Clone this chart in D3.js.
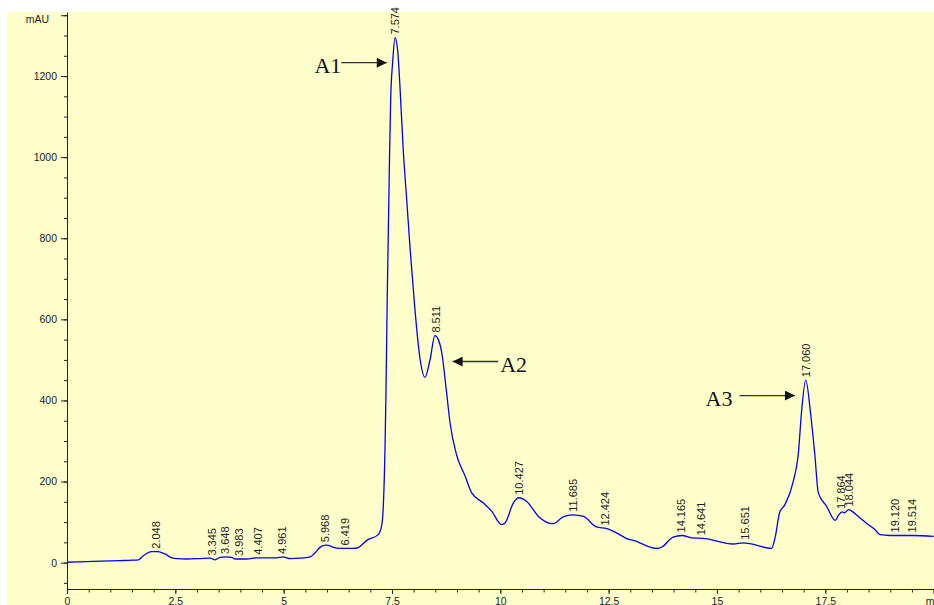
<!DOCTYPE html>
<html>
<head>
<meta charset="utf-8">
<script src="https://d3js.org/d3.v7.min.js"></script>
<style>
  body { margin: 0; background: #fff; }
  svg { display: block; }
  .axis text { font-family: "Liberation Sans", Arial, sans-serif; font-size: 10.5px; fill: #222; }
  .axis path, .axis line { stroke: #222; }
</style>
</head>
<body>
<div id="chart"></div>
<script>
// chromatogram trace (time in min, signal in mAU)
var traceTime = [0.00, 0.22, 0.60, 1.22, 1.50, 1.65, 1.76, 1.95, 2.10, 2.25, 2.42, 2.55, 2.76, 3.07, 3.30,
  3.42, 3.53, 3.68, 3.80, 3.88, 4.15, 4.38, 4.84, 4.99, 5.15, 5.40, 5.61, 5.72, 5.88, 5.99, 6.22, 6.61,
  6.72, 6.92, 7.18, 7.26, 7.30, 7.34, 7.36, 7.39, 7.44, 7.47, 7.52, 7.57, 7.63, 7.68, 7.76, 7.84, 7.92,
  8.03, 8.15, 8.26, 8.38, 8.49, 8.57, 8.65, 8.76, 8.84, 8.99, 9.19, 9.34, 9.61, 9.80, 10.03, 10.11, 10.30,
  10.42, 10.61, 10.88, 11.22, 11.45, 11.68, 11.92, 12.22, 12.46, 12.69, 12.95, 13.07, 13.61, 13.72, 13.99,
  14.19, 14.42, 14.68, 15.38, 15.61, 15.76, 16.26, 16.34, 16.45, 16.57, 16.76, 16.88, 16.95, 17.05, 17.16,
  17.26, 17.34, 17.53, 17.73, 17.81, 17.89, 17.94, 18.04, 18.11, 18.30, 18.53, 18.65, 18.76, 18.99, 19.53, 20.00];
var traceMAU = [1, 2, 3, 5, 6, 7, 17, 27, 27, 22, 12, 10, 9, 10, 11,
  7, 13, 14, 13, 9, 9, 12, 12, 14, 10, 11, 14, 24, 41, 43, 36, 35,
  37, 55, 69, 90, 139, 287, 410, 649, 977, 1142, 1240, 1295, 1265, 1183, 1018, 895, 772,
  624, 501, 457, 501, 560, 550, 517, 420, 345, 266, 213, 172, 147, 127, 94, 98, 147,
  160, 151, 114, 96, 113, 118, 114, 88, 84, 73, 58, 55, 35, 38, 63,
  67, 61, 60, 46, 49, 47, 35, 61, 125, 143, 200, 271, 369, 450, 369,
  265, 172, 139, 104, 118, 125, 123, 131, 127, 110, 91, 81, 69, 67, 67, 65];

// peak retention times and heights
var peakTimes = [2.048, 3.345, 3.648, 3.983, 4.407, 4.961, 5.968, 6.419, 7.574, 8.511, 10.427, 11.685,
  12.424, 14.165, 14.641, 15.651, 17.060, 17.864, 18.044, 19.120, 19.514];
var peakHeights = [27, 10, 14, 9, 12, 14, 43, 35, 1295, 560, 160, 118,
  84, 67, 60, 49, 450, 125, 131, 67, 67];

// arrow annotations
var annLabels = ["A1", "A2", "A3"];
var annTipTime = [7.38, 8.90, 16.80];
var annTipMAU = [1233, 496, 412];
var annTailTime = [6.33, 9.95, 15.52];

// axis ticks
var xTicks = [0, 2.5, 5, 7.5, 10, 12.5, 15, 17.5, 20];
var xTickLabels = ["0", "2.5", "5", "7.5", "10", "12.5", "15", "17.5", "min"];
var yTicks = [0, 200, 400, 600, 800, 1000, 1200, 1350];

var svgWidth = 934;
var svgHeight = 605;

var svg = d3.select("#chart")
  .append("svg")
  .attr("width", svgWidth)
  .attr("height", svgHeight);

// pale yellow plot background
svg.append("rect")
  .attr("x", 7)
  .attr("y", 12)
  .attr("width", svgWidth - 7)
  .attr("height", svgHeight - 12)
  .attr("fill", "#ffffcc");

var x = d3.scaleLinear().domain([0, 20]).range([67, 933.6]);
var y = d3.scaleLinear().domain([-65, 1358]).range([589, 12]);

// y axis, minor then major
svg.append("g")
  .attr("class", "axis")
  .attr("transform", "translate(67,0)")
  .call(d3.axisLeft(y).tickValues(d3.range(-50, 1351, 50)).tickSize(3).tickFormat(""))
  .call(g => g.select(".domain").remove());

svg.append("g")
  .attr("class", "axis")
  .attr("transform", "translate(67,0)")
  .call(d3.axisLeft(y).tickValues(yTicks).tickSize(6).tickSizeOuter(0).tickPadding(4)
    .tickFormat(d => d == 1350 ? "" : d));

svg.append("text")
  .attr("x", 49)
  .attr("y", 23)
  .attr("text-anchor", "end")
  .style("font-family", "Liberation Sans, Arial, sans-serif")
  .style("font-size", "10.5px")
  .attr("fill", "#222")
  .text("mAU");

// x axis
svg.append("g")
  .attr("class", "axis")
  .attr("transform", "translate(0,589)")
  .call(d3.axisBottom(x).tickValues(d3.range(0, 20.01, 0.5)).tickSize(3.5).tickFormat(""))
  .call(g => g.select(".domain").remove());

var xAxis = svg.append("g")
  .attr("class", "axis")
  .attr("transform", "translate(0,589)")
  .call(d3.axisBottom(x).tickValues(xTicks).tickSize(5).tickSizeOuter(0)
    .tickFormat((d, i) => xTickLabels[i]));

xAxis.selectAll("text")
  .attr("y", 9)
  .attr("dy", "0.71em");

// trace
var points = traceTime.map((t, i) => [t, traceMAU[i]]);

var line = d3.line()
  .x(d => x(d[0]))
  .y(d => y(d[1]))
  .curve(d3.curveMonotoneX);

svg.append("path")
  .datum(points)
  .attr("d", line)
  .attr("fill", "none")
  .attr("stroke", "#0000ff")
  .attr("stroke-width", 1.3);

// peak labels
svg.selectAll(".peak")
  .data(peakTimes)
  .enter()
  .append("text")
  .attr("class", "peak")
  .attr("transform", (d, i) => `translate(${x(d)},${y(peakHeights[i]) - 3}) rotate(-90)`)
  .attr("dy", "0.35em")
  .style("font-family", "Liberation Sans, Arial, sans-serif")
  .style("font-size", "11px")
  .attr("fill", "#222")
  .text(d => d.toFixed(3));

// arrows
svg.append("defs")
  .append("marker")
  .attr("id", "head")
  .attr("markerUnits", "userSpaceOnUse")
  .attr("viewBox", "0 0 10 10")
  .attr("refX", 10)
  .attr("refY", 5)
  .attr("markerWidth", 11)
  .attr("markerHeight", 10)
  .attr("orient", "auto")
  .append("path")
  .attr("d", "M0,0L10,5L0,10Z")
  .attr("fill", "#111");

annLabels.forEach(function(label, i) {
  var tipX = x(annTipTime[i]);
  var tipY = y(annTipMAU[i]);
  var tailX = x(annTailTime[i]);

  svg.append("line")
    .attr("x1", tailX)
    .attr("y1", tipY)
    .attr("x2", tipX)
    .attr("y2", tipY)
    .attr("stroke", "#333")
    .attr("stroke-width", 1.3)
    .attr("marker-end", "url(#head)");

  var pointsLeft = tailX < tipX;
  svg.append("text")
    .attr("x", pointsLeft ? tailX - (i == 0 ? 0 : 7) : tailX + 2)
    .attr("y", tipY + 10)
    .attr("text-anchor", pointsLeft ? "end" : "start")
    .style("font-family", "Liberation Serif, Times New Roman, serif")
    .style("font-size", "22px")
    .attr("fill", "#111")
    .text(label);
});
</script>
</body>
</html>
